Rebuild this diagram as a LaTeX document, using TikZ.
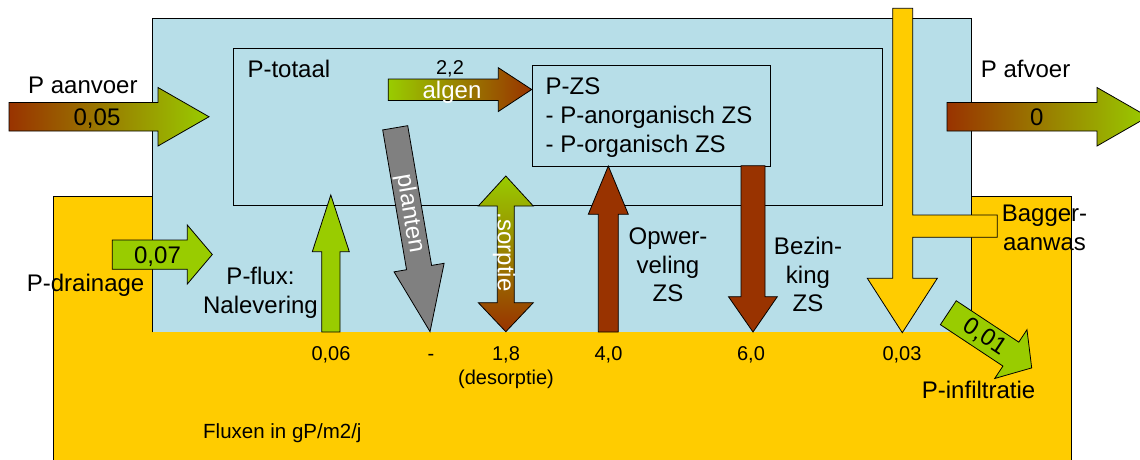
\documentclass[tikz,border=0pt]{standalone}
\usepackage{fontspec}
\setmainfont{Liberation Sans}
\definecolor{water}{HTML}{B7DEE8}
\definecolor{sed}{HTML}{FFCC00}
\definecolor{pgreen}{HTML}{99CC00}
\definecolor{pbrown}{HTML}{993300}
\definecolor{pgray}{HTML}{808080}
\begin{document}
\begin{tikzpicture}[x=1pt,y=-1pt,
  outl/.style={draw=black,line width=0.8pt,line join=miter},
  lab/.style={font=\fontsize{24}{29}\selectfont,inner sep=0pt},
  num/.style={font=\fontsize{20}{24}\selectfont,inner sep=0pt},
  wlab/.style={lab,text=white},
  boxnode/.style={draw=black,line width=0.8pt,inner sep=0pt,anchor=north west},
]
\useasboundingbox (0,0) rectangle (1140,459);
\clip (0,0) rectangle (1140,459);

% sediment layer (waterbodem)
\node[boxnode,fill=sed,minimum width=1018pt,minimum height=290pt] (bodem) at (53,196) {};

% water column, open at the bottom
\node[fill=water,inner sep=0pt,anchor=north west,minimum width=819pt,minimum height=314pt] (water) at (152,18) {};
\draw[outl] (water.south west) -- (water.north west) -- (water.north east) -- (water.south east);

% P-totaal compartment and the suspended-solids box
\node[boxnode,minimum width=649pt,minimum height=157pt] (totaal) at (233,48) {};
\node[boxnode,fill=water,minimum width=238.3pt,minimum height=100.7pt] (zs) at (531.7,65) {};

% inflow and outflow
\shadedraw[outl,left color=pbrown,right color=pgreen]
  (9,102.5) -- (158,102.5) -- (158,87.5) -- (209,116.75) -- (158,146) -- (158,131) -- (9,131) -- cycle;
\shadedraw[outl,left color=pbrown,right color=pgreen]
  (947,102.5) -- (1097,102.5) -- (1097,87.5) -- (1148,116.75) -- (1097,146) -- (1097,131) -- (947,131) -- cycle;

% drainage
\filldraw[outl,fill=pgreen]
  (112.3,240) -- (187.3,240) -- (187.3,225) -- (212.3,254.5) -- (187.3,284) -- (187.3,269.3) -- (112.3,269.3) -- cycle;

% algae uptake
\shadedraw[outl,left color=pgreen,right color=pbrown]
  (388.3,79) -- (498.3,79) -- (498.3,67.7) -- (531.7,89.5) -- (498.3,111.5) -- (498.3,100.5) -- (388.3,100.5) -- cycle;

% release from the bed
\filldraw[outl,fill=pgreen]
  (321.7,332) -- (321.7,251.7) -- (312.3,251.7) -- (330.8,195) -- (349.3,251.7) -- (340,251.7) -- (340,332) -- cycle;

% plant uptake
\begin{scope}[shift={(395.2,127.8)},rotate=-80.3]
  \filldraw[outl,fill=pgray]
    (0,-12.7) -- (141.8,-12.7) -- (141.8,-25.4) -- (206.8,0) -- (141.8,25.4) -- (141.8,12.7) -- (0,12.7) -- cycle;
  \node[wlab,rotate=-80.3] (plantenL) at (87,0) {planten};
\end{scope}

% sorption / desorption
\shadedraw[outl,top color=pgreen,bottom color=pbrown]
  (505.8,176) -- (533.3,206) -- (514.3,206) -- (514.3,302.7) -- (533.3,302.7) -- (505.8,331.7)
  -- (478.3,302.7) -- (497.3,302.7) -- (497.3,206) -- (478.3,206) -- cycle;
\node[wlab,rotate=-90] (sorptieL) at (504,252) {.sorptie};

% resuspension
\filldraw[outl,fill=pbrown]
  (598.3,332) -- (598.3,214.3) -- (588.3,214.3) -- (608.3,166) -- (628.3,214.3) -- (618.3,214.3) -- (618.3,332) -- cycle;

% settling
\filldraw[outl,fill=pbrown]
  (741,165.7) -- (765,165.7) -- (765,296.7) -- (777.3,296.7) -- (753,332) -- (728.5,296.7) -- (741,296.7) -- cycle;

% dredging / sediment accretion
\filldraw[outl,fill=sed]
  (892.7,8.3) -- (912.7,8.3) -- (912.7,215) -- (997.3,215) -- (997.3,237.3) -- (912.7,237.3)
  -- (912.7,278.3) -- (937.3,278.3) -- (902.3,332.7) -- (867.3,278.3) -- (892.7,278.3) -- cycle;

% infiltration
\begin{scope}[shift={(948.3,312.7)},rotate=-33.5]
  \filldraw[outl,fill=pgreen]
    (0,-14.35) -- (75,-14.35) -- (75,-29.25) -- (100,0) -- (75,29.25) -- (75,14.35) -- (0,14.35) -- cycle;
  \node[lab,rotate=-33.5] (infN) at (44,0) {0,01};
\end{scope}

% labels
\node[lab,anchor=base west] (aanvoerL) at (28,93.3) {P aanvoer};
\node[lab,anchor=base] (aanvoerN) at (97,125.7) {0,05};
\node[lab,anchor=base west] (afvoerL) at (980.7,77.3) {P afvoer};
\node[lab,anchor=base] (afvoerN) at (1036.7,125.7) {0};
\node[lab,anchor=base] (drainN) at (157.5,263.3) {0,07};
\node[lab,anchor=base west] (drainL) at (26.7,291.7) {P-drainage};
\node[lab,anchor=base] (fluxL1) at (260.5,284) {P-flux:};
\node[lab,anchor=base] (fluxL2) at (260.5,313.3) {Nalevering};
\node[lab,anchor=base west] (totaalL) at (247.3,77.3) {P-totaal};
\node[num,anchor=base] (algenN) at (450,74) {2,2};
\node[wlab,anchor=base] (algenL) at (452,98) {algen};
\node[lab,anchor=base west] (zsL1) at (545.5,94) {P-ZS};
\node[lab,anchor=base west] (zsL2) at (545.5,123) {- P-anorganisch ZS};
\node[lab,anchor=base west] (zsL3) at (545.5,152) {- P-organisch ZS};
\node[lab,anchor=base] (opwL1) at (668,244.3) {Opwer-};
\node[lab,anchor=base] (opwL2) at (668,273.3) {veling};
\node[lab,anchor=base] (opwL3) at (668,301.7) {ZS};
\node[lab,anchor=base] (bezL1) at (808,254.3) {Bezin-};
\node[lab,anchor=base] (bezL2) at (808,283.3) {king};
\node[lab,anchor=base] (bezL3) at (808,311.7) {ZS};
\node[lab,anchor=base] (bagL1) at (1044.5,221.7) {Bagger-};
\node[lab,anchor=base] (bagL2) at (1044.5,250) {aanwas};
\node[lab,anchor=base west] (infL) at (921.7,398.3) {P-infiltratie};

% bed fluxes
\node[num,anchor=base] (n1) at (331,360) {0,06};
\node[num,anchor=base] (n2) at (431,360) {-};
\node[num,anchor=base] (n3) at (506,360) {1,8};
\node[num,anchor=base] (n3b) at (506,384) {(desorptie)};
\node[num,anchor=base] (n4) at (608.5,360) {4,0};
\node[num,anchor=base] (n5) at (751,360) {6,0};
\node[num,anchor=base] (n6) at (902,360) {0,03};
\node[font=\fontsize{20.5}{24}\selectfont,inner sep=0pt,anchor=base west] (unitL) at (203,438.3) {Fluxen in gP/m2/j};
\end{tikzpicture}
\end{document}
